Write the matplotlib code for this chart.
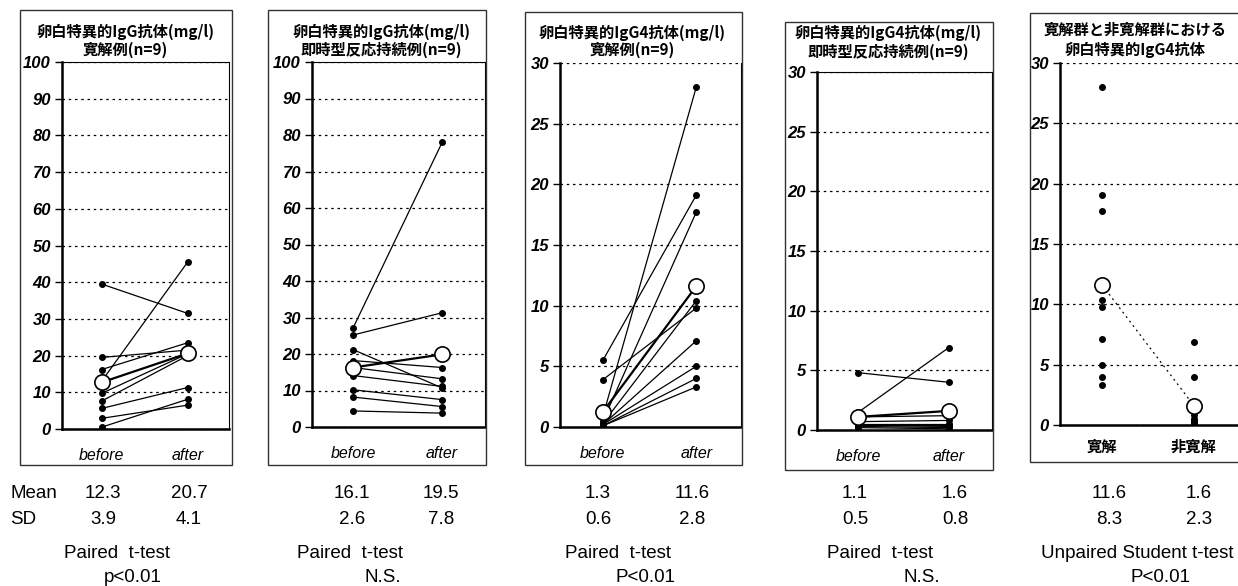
import matplotlib
matplotlib.use("Agg")
import matplotlib.pyplot as plt
from matplotlib.patches import Rectangle

W, H = 1238, 586
CJK = ["Noto Sans CJK JP", "DejaVu Sans"]
LAT = ["Liberation Sans", "DejaVu Sans"]

groups = ["before", "after"]
groups5 = ["寛解", "非寛解"]

# panel 1: IgG, remission (n=9)
igg_rem_before = [39.5, 13.0, 19.5, 16.2, 9.7, 7.6, 5.6, 2.9, 0.5]
igg_rem_after = [31.5, 45.5, 21.5, 23.5, 20.5, 20.0, 11.3, 6.5, 8.1]
igg_rem_mean = [12.7, 20.6]

# panel 2: IgG, persistent reaction (n=9)
igg_per_before = [27.1, 25.2, 21.2, 18.2, 16.3, 14.1, 10.2, 8.2, 4.4]
igg_per_after = [78.0, 31.3, 10.7, 16.3, 13.2, 11.1, 7.5, 5.6, 3.8]
igg_per_mean = [16.3, 19.9]

# panel 3: IgG4, remission
igg4_rem_before = [5.5, 3.9, 0.9, 0.5, 0.3, 0.2, 0.2, 0.1, 0.1]
igg4_rem_after = [19.1, 9.8, 28.0, 17.7, 10.4, 7.1, 5.0, 4.0, 3.3]
igg4_rem_mean = [1.25, 11.6]

# panel 4: IgG4, persistent reaction
igg4_per_before = [4.8, 1.5, 1.1, 0.7, 0.5, 0.4, 0.4, 0.3, 0.2]
igg4_per_after = [4.0, 6.9, 1.2, 0.8, 0.5, 0.4, 0.3, 0.2, 0.1]
igg4_per_mean = [1.1, 1.6]

# panel 5 compares the "after" IgG4 values of both groups
unpaired_mean = [11.6, 1.6]

titles = [
    ("卵白特異的IgG抗体(mg/l)", "寛解例(n=9)"),
    ("卵白特異的IgG抗体(mg/l)", "即時型反応持続例(n=9)"),
    ("卵白特異的IgG4抗体(mg/l)", "寛解例(n=9)"),
    ("卵白特異的IgG4抗体(mg/l)", "即時型反応持続例(n=9)"),
    ("寛解群と非寛解群における", "卵白特異的IgG4抗体"),
]
mean_txt = [("12.3", "20.7"), ("16.1", "19.5"), ("1.3", "11.6"), ("1.1", "1.6"), ("11.6", "1.6")]
sd_txt = [("3.9", "4.1"), ("2.6", "7.8"), ("0.6", "2.8"), ("0.5", "0.8"), ("8.3", "2.3")]
test_txt = ["Paired  t-test", "Paired  t-test", "Paired  t-test", "Paired  t-test",
            "Unpaired Student t-test"]
p_txt = ["p<0.01", "N.S.", "P<0.01", "N.S.", "P<0.01"]

# layout in pixels: (box l, t, r, b), (axes l, t, r, b), title x, title ys
boxes = [(20, 10, 232, 465), (268, 10, 486, 465), (525, 12, 742, 465),
         (785, 22, 993, 470), (1030, 13, 1240, 462)]
axes_px = [(62, 62, 229, 429), (312, 62, 485, 427), (560, 63, 741, 427),
           (817, 72, 992, 430), (1060, 63, 1238, 425)]
title_x = [125, 381, 632, 888, 1135]
title_y = [(32, 50), (32, 50), (33, 50), (33, 52), (30, 50)]
mean_x = [(103, 189), (352, 441), (598, 692), (855, 955), (1109, 1199)]
test_x = [117, 350, 618, 880, 1137]
p_x = [133, 383, 645, 922, 1160]

fig = plt.figure(figsize=(W / 100, H / 100), dpi=100)


def fx(x):
    return x / W


def fy(y):
    return 1 - y / H


def make_axes(i, ymax, step, top_line=True):
    l, t, r, b = axes_px[i]
    ax = fig.add_axes([fx(l), fy(b), (r - l) / W, (b - t) / H])
    ax.set_ylim(0, ymax)
    ax.set_xlim(-0.46, 1.48)
    ax.set_yticks(range(0, ymax + 1, step))
    ax.yaxis.grid(True, linestyle=(0, (2, 3)), color="black", linewidth=0.9)
    ax.set_axisbelow(True)
    ax.spines["left"].set_linewidth(1.8)
    ax.spines["bottom"].set_linewidth(1.8)
    ax.spines["right"].set_visible(i < 4)
    ax.spines["right"].set_linewidth(0.8)
    ax.spines["top"].set_visible(top_line)
    ax.spines["top"].set_linewidth(0.8)
    ax.tick_params(axis="y", direction="out", length=5, width=1, pad=3)
    ax.tick_params(axis="x", length=0, pad=14)
    for lab in ax.get_yticklabels():
        lab.set_fontfamily(LAT)
        lab.set_fontstyle("italic")
        lab.set_fontweight("bold")
        lab.set_fontsize(12)
    ax.set_xticks([0, 1])
    return ax


def paired(ax, before, after, mean):
    for b, a in zip(before, after):
        ax.plot([0, 1], [b, a], color="black", linewidth=0.9,
                marker="o", markersize=4, zorder=3)
    ax.plot([0, 1], mean, color="black", linewidth=1.6, zorder=4)
    ax.plot([0, 1], mean, linestyle="none", marker="o", markersize=11,
            markerfacecolor="white", markeredgecolor="black",
            markeredgewidth=1.2, zorder=5)
    ax.set_xticklabels(groups, fontfamily=LAT, fontstyle="italic", fontsize=11.5)


panels = [
    (igg_rem_before, igg_rem_after, igg_rem_mean, 100, 10),
    (igg_per_before, igg_per_after, igg_per_mean, 100, 10),
    (igg4_rem_before, igg4_rem_after, igg4_rem_mean, 30, 5),
    (igg4_per_before, igg4_per_after, igg4_per_mean, 30, 5),
]
for i, (bef, aft, mn, ymax, step) in enumerate(panels):
    ax = make_axes(i, ymax, step, top_line=(i != 2))
    paired(ax, bef, aft, mn)

ax5 = make_axes(4, 30, 5, top_line=False)
ax5.plot([0] * len(igg4_rem_after), igg4_rem_after, "o", color="black",
         markersize=4, zorder=3)
ax5.plot([1] * len(igg4_per_after), igg4_per_after, "o", color="black",
         markersize=4, zorder=3)
ax5.plot([0, 1], unpaired_mean, color="black", linestyle=(0, (1.5, 3)),
         linewidth=0.9, zorder=4)
ax5.plot([0, 1], unpaired_mean, linestyle="none", marker="o", markersize=11,
         markerfacecolor="white", markeredgecolor="black",
         markeredgewidth=1.2, zorder=5)
ax5.set_xticklabels(groups5, fontfamily=CJK, fontsize=11, fontweight="bold")
ax5.tick_params(axis="x", pad=10)

# outer boxes and titles
for i in range(5):
    l, t, r, b = boxes[i]
    fig.patches.append(Rectangle((fx(l), fy(b)), (r - l) / W, (b - t) / H,
                                 transform=fig.transFigure, fill=False,
                                 edgecolor="#333333", linewidth=1))
    for line, yy in zip(titles[i], title_y[i]):
        fig.text(fx(title_x[i]), fy(yy), line, ha="center", va="center",
                 fontfamily=CJK, fontsize=11, fontweight="bold")

# statistics under each panel
fig.text(fx(10), fy(493), "Mean", ha="left", va="center", fontfamily=LAT, fontsize=13.5)
fig.text(fx(10), fy(520), "SD", ha="left", va="center", fontfamily=LAT, fontsize=13.5)
for i in range(5):
    for k in range(2):
        fig.text(fx(mean_x[i][k]), fy(493), mean_txt[i][k], ha="center",
                 va="center", fontfamily=LAT, fontsize=13.5)
        fig.text(fx(mean_x[i][k]), fy(520), sd_txt[i][k], ha="center",
                 va="center", fontfamily=LAT, fontsize=13.5)
    fig.text(fx(test_x[i]), fy(553), test_txt[i], ha="center", va="center",
             fontfamily=LAT, fontsize=13.5)
    fig.text(fx(p_x[i]), fy(578), p_txt[i], ha="center", va="center",
             fontfamily=LAT, fontsize=13.5)

fig.savefig("out.png", dpi=100)
